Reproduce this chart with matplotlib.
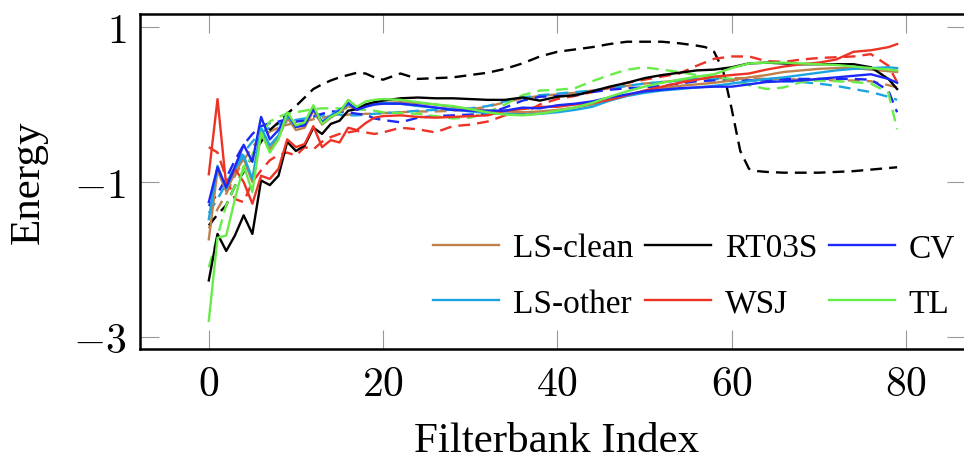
import matplotlib
matplotlib.use("Agg")
import matplotlib.pyplot as plt

# filterbank index positions the values were read at
idx = list(range(20)) + list(range(20, 79, 2)) + [79]
rt03s_dash_idx = (list(range(20)) + list(range(20, 57, 2))
                  + [57, 58, 59, 60, 61, 62, 63, 64]
                  + list(range(66, 79, 2)) + [79])

# solid lines
ls_clean = [-1.74, -0.85, -1.12, -0.88, -0.70, -1.00, -0.38, -0.58, -0.43, -0.17,
            -0.33, -0.30, -0.08, -0.26, -0.17, -0.10, -0.02, -0.07, -0.02, 0.00,
            0.02, 0.03, 0.02, 0.00, -0.03, -0.06, -0.08, -0.09, -0.10, -0.09, -0.07,
            -0.04, 0.00, 0.06, 0.12, 0.17, 0.21, 0.24, 0.26, 0.28, 0.31, 0.35, 0.38,
            0.42, 0.44, 0.46, 0.47, 0.47, 0.45, 0.43, 0.42]
ls_other = [-1.48, -0.79, -1.09, -0.83, -0.66, -0.96, -0.30, -0.53, -0.40, -0.14,
            -0.29, -0.25, -0.05, -0.22, -0.14, -0.07, 0.00, -0.05, -0.01, 0.01,
            0.02, 0.01, -0.02, -0.04, -0.06, -0.09, -0.11, -0.12, -0.13, -0.12, -0.10,
            -0.07, -0.03, 0.05, 0.11, 0.15, 0.18, 0.20, 0.22, 0.24, 0.27, 0.30, 0.33,
            0.35, 0.38, 0.41, 0.44, 0.46, 0.47, 0.48, 0.47]
rt03s = [-2.27, -1.67, -1.89, -1.69, -1.43, -1.67, -0.98, -1.04, -0.92, -0.48,
         -0.60, -0.53, -0.30, -0.38, -0.25, -0.21, -0.08, -0.06, 0.00, 0.03,
         0.05, 0.08, 0.09, 0.08, 0.08, 0.07, 0.06, 0.06, 0.09, 0.05, 0.10,
         0.12, 0.17, 0.23, 0.28, 0.34, 0.38, 0.41, 0.44, 0.45, 0.48, 0.53, 0.54,
         0.53, 0.52, 0.52, 0.52, 0.52, 0.48, 0.33, 0.20]
wsj = [-0.90, 0.07, -1.05, -0.83, -1.00, -1.28, -0.92, -0.96, -0.83, -0.45,
       -0.55, -0.51, -0.28, -0.55, -0.46, -0.49, -0.30, -0.33, -0.24, -0.17,
       -0.15, -0.14, -0.16, -0.17, -0.16, -0.15, -0.14, -0.08, -0.06, -0.03, -0.03,
       0.00, 0.02, 0.06, 0.12, 0.18, 0.23, 0.28, 0.32, 0.36, 0.38, 0.40, 0.45,
       0.49, 0.52, 0.54, 0.58, 0.68, 0.70, 0.74, 0.78]
cv = [-1.26, -0.81, -1.07, -0.80, -0.52, -0.74, -0.16, -0.45, -0.33, -0.11,
      -0.29, -0.27, -0.06, -0.23, -0.16, -0.08, 0.02, -0.07, -0.03, 0.00,
      0.01, 0.01, -0.01, -0.04, -0.07, -0.08, -0.08, -0.08, -0.04, -0.05, -0.01,
      0.01, 0.04, 0.09, 0.13, 0.17, 0.19, 0.21, 0.22, 0.23, 0.23, 0.26, 0.29,
      0.30, 0.31, 0.33, 0.35, 0.37, 0.39, 0.33, 0.28]
tl = [-2.79, -1.72, -1.69, -1.22, -0.79, -1.13, -0.36, -0.62, -0.45, -0.10,
      -0.27, -0.23, -0.01, -0.25, -0.16, -0.10, 0.06, -0.03, 0.04, 0.06,
      0.07, 0.06, 0.03, 0.00, -0.02, -0.06, -0.10, -0.13, -0.14, -0.12, -0.08,
      -0.04, 0.02, 0.10, 0.17, 0.23, 0.28, 0.32, 0.36, 0.39, 0.47, 0.53, 0.54,
      0.54, 0.53, 0.52, 0.51, 0.49, 0.47, 0.45, 0.44]

# dashed lines
ls_clean_d = [-1.60, -1.35, -1.15, -0.92, -0.72, -0.55, -0.42, -0.35, -0.30, -0.26,
              -0.24, -0.22, -0.19, -0.17, -0.15, -0.14, -0.13, -0.13, -0.12, -0.12,
              -0.11, -0.10, -0.09, -0.09, -0.08, -0.06, -0.03, 0.03, 0.08, 0.11, 0.13,
              0.15, 0.18, 0.21, 0.24, 0.27, 0.29, 0.31, 0.33, 0.34, 0.34, 0.34, 0.33,
              0.33, 0.32, 0.32, 0.31, 0.31, 0.30, 0.25, 0.22]
ls_other_d = [-1.40, -1.22, -1.02, -0.80, -0.62, -0.48, -0.36, -0.30, -0.25, -0.22,
              -0.20, -0.18, -0.16, -0.14, -0.13, -0.13, -0.14, -0.14, -0.13, -0.12,
              -0.11, -0.10, -0.08, -0.07, -0.07, -0.05, -0.02, 0.04, 0.09, 0.12, 0.14,
              0.16, 0.18, 0.21, 0.24, 0.27, 0.29, 0.31, 0.33, 0.33, 0.32, 0.31, 0.30,
              0.30, 0.29, 0.27, 0.24, 0.20, 0.16, 0.10, 0.06]
rt03s_d = [-1.56, -1.42, -1.30, -1.05, -0.87, -0.66, -0.48, -0.33, -0.23, -0.12,
           -0.02, 0.09, 0.20, 0.26, 0.31, 0.35, 0.38, 0.41, 0.40, 0.35,
           0.32, 0.40, 0.33, 0.34, 0.35, 0.38, 0.41, 0.46, 0.53, 0.62, 0.68,
           0.71, 0.74, 0.78, 0.81, 0.81, 0.81, 0.79, 0.76,
           0.74, 0.68, 0.45, -0.05, -0.60, -0.83, -0.86, -0.87,
           -0.88, -0.88, -0.88, -0.87, -0.86, -0.84, -0.82, -0.81]
wsj_d = [-0.55, -0.62, -0.95, -1.22, -1.26, -1.00, -0.85, -0.72, -0.65, -0.62,
         -0.66, -0.55, -0.58, -0.48, -0.42, -0.38, -0.36, -0.34, -0.36, -0.38,
         -0.36, -0.30, -0.32, -0.36, -0.28, -0.26, -0.22, -0.14, -0.12, 0.00, 0.07,
         0.11, 0.16, 0.22, 0.28, 0.32, 0.36, 0.40, 0.50, 0.59, 0.62, 0.62, 0.56,
         0.55, 0.58, 0.60, 0.61, 0.62, 0.65, 0.50, 0.29]
cv_d = [-1.31, -1.15, -0.95, -0.72, -0.52, -0.38, -0.28, -0.24, -0.22, -0.19,
        -0.22, -0.21, -0.15, -0.12, -0.09, -0.09, -0.10, -0.12, -0.13, -0.18,
        -0.20, -0.23, -0.17, -0.15, -0.14, -0.13, -0.12, -0.04, 0.05, 0.10, 0.11,
        0.12, 0.16, 0.19, 0.21, 0.22, 0.24, 0.27, 0.30, 0.31, 0.31, 0.31, 0.31,
        0.33, 0.33, 0.33, 0.33, 0.33, 0.32, 0.18, -0.10]
tl_d = [-2.10, -1.70, -1.30, -1.05, -0.85, -0.65, -0.40, -0.22, -0.16, -0.12,
        -0.10, -0.08, -0.06, -0.05, -0.05, -0.05, -0.05, -0.06, -0.07, -0.08,
        -0.10, -0.11, -0.12, -0.15, -0.18, -0.17, -0.10, 0.00, 0.12, 0.18, 0.19,
        0.21, 0.30, 0.38, 0.45, 0.48, 0.45, 0.42, 0.38, 0.35, 0.33, 0.25, 0.20,
        0.22, 0.29, 0.31, 0.30, 0.29, 0.27, 0.15, -0.32]

labels = ["LS-clean", "LS-other", "RT03S", "WSJ", "CV", "TL"]
colors = ["#c0804a", "#1ca4e0", "black", "#ec3325", "#1c28f5", "#68ec48"]
solid = [ls_clean, ls_other, rt03s, wsj, cv, tl]
dashed = [ls_clean_d, ls_other_d, rt03s_d, wsj_d, cv_d, tl_d]
dashed_x = [idx, idx, rt03s_dash_idx, idx, idx, idx]

plt.rcParams["font.family"] = ["Liberation Serif", "DejaVu Serif"]
plt.rcParams["mathtext.fontset"] = "cm"

fig = plt.figure(figsize=(9.64, 4.64), dpi=100)
ax = fig.add_axes([0.1452, 0.2457, 0.8568, 0.722])

for ys, xs, c in zip(dashed, dashed_x, colors):
    ax.plot(xs, ys, color=c, lw=1.7, dashes=(5, 3))
handles = []
for ys, c, lab in zip(solid, colors, labels):
    h, = ax.plot(idx, ys, color=c, lw=1.7, label=lab)
    handles.append(h)

ax.set_xlim(-7.9, 86.9)
ax.set_ylim(-3.155, 1.168)
ax.set_xticks([0, 20, 40, 60, 80], ["$0$", "$20$", "$40$", "$60$", "$80$"])
ax.set_yticks([-3, -1, 1], ["$-3$", "$-1$", "$1$"])
ax.tick_params(direction="in", top=True, right=True, length=14, width=0.8,
               color="#999999", labelsize=30, pad=10)
ax.tick_params(axis="x", pad=12)
for s in ax.spines.values():
    s.set_linewidth(1.8)

ax.set_xlabel("Filterbank Index", fontsize=31)
ax.set_ylabel("Energy", fontsize=31)
ax.xaxis.set_label_coords(0.504, -0.215)
ax.yaxis.set_label_coords(-0.112, 0.5)

ax.legend(handles=handles, ncol=3, loc="lower right", bbox_to_anchor=(0.995, 0.07),
          frameon=False, prop={"family": "Liberation Serif", "size": 24},
          handlelength=2.0, handletextpad=0.4, columnspacing=0.35,
          labelspacing=0.75, borderaxespad=0, borderpad=0.2)

fig.savefig("out.png", dpi=100)
